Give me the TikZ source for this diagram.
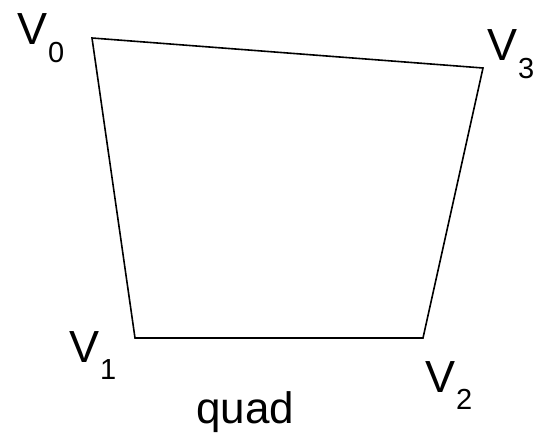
\documentclass[tikz,border=0pt]{standalone}
\usepackage{fontspec}
\setmainfont{Liberation Sans}
\newcommand{\vlab}[1]{V\kern1pt{\fontsize{29}{29}\selectfont\raisebox{-17.5pt}{#1}}}
\begin{document}
\begin{tikzpicture}[x=1pt,y=-1pt,
  lab/.style={anchor=base west,inner sep=0pt,font=\fontsize{45}{45}\selectfont},
  edge/.style={line width=1.6pt,line join=miter}]
\useasboundingbox (0,0) rectangle (534,438);
\coordinate (v0) at (92,38);
\coordinate (v1) at (135,338);
\coordinate (v2) at (423,338);
\coordinate (v3) at (483,68);
\draw[edge] (v0) -- (v1) -- (v2) -- (v3) -- cycle;
\node[lab] (l0) at (17,45) {\vlab{0}};
\node[lab] (l3) at (487,61) {\vlab{3}};
\node[lab] (l1) at (69,362) {\vlab{1}};
\node[lab] (l2) at (425,392) {\vlab{2}};
\node[lab,font=\fontsize{44}{44}\selectfont] (q) at (196,423) {quad};
\end{tikzpicture}
\end{document}
